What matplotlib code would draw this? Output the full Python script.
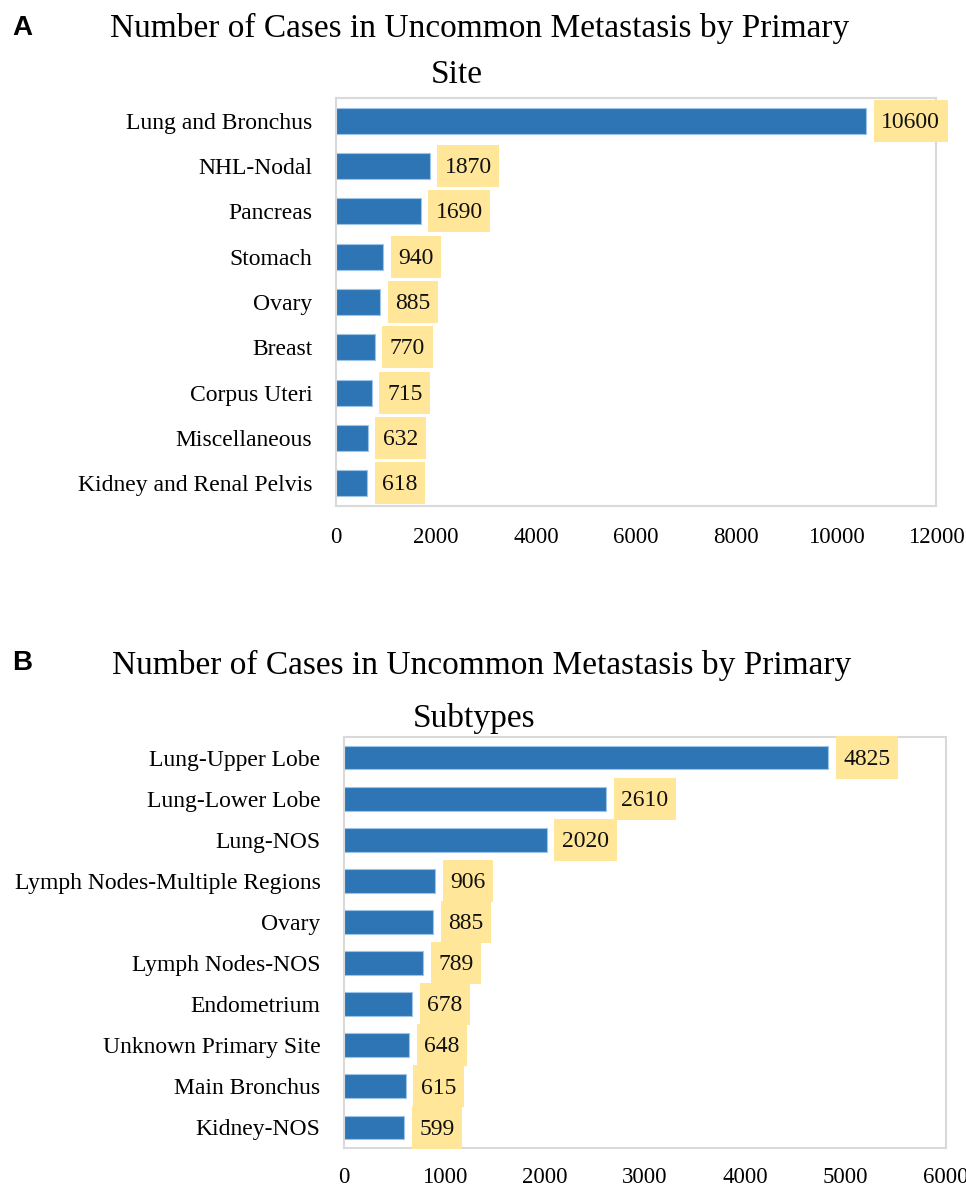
import matplotlib
matplotlib.use("Agg")
from matplotlib import pyplot as plt
from matplotlib.path import Path

# Panel A: primary site
sites = ['Lung and Bronchus', 'NHL-Nodal', 'Pancreas', 'Stomach', 'Ovary',
         'Breast', 'Corpus Uteri', 'Miscellaneous', 'Kidney and Renal Pelvis']
site_cases = [10600, 1870, 1690, 940, 885, 770, 715, 632, 618]
site_ticks = [0, 2000, 4000, 6000, 8000, 10000, 12000]

# Panel B: primary subtypes
subtypes = ['Lung-Upper Lobe', 'Lung-Lower Lobe', 'Lung-NOS',
            'Lymph Nodes-Multiple Regions', 'Ovary', 'Lymph Nodes-NOS',
            'Endometrium', 'Unknown Primary Site', 'Main Bronchus', 'Kidney-NOS']
subtype_cases = [4825, 2610, 2020, 906, 885, 789, 678, 648, 615, 599]
subtype_ticks = [0, 1000, 2000, 3000, 4000, 5000, 6000]

bar_color = '#2E75B6'
box_color = '#FFE699'
frame_color = '#D9D9D9'
serif = 'Liberation Serif'


def tall_box(x0, y0, width, height, mutation_size):
    # label box: a bit more padding top/bottom than left/right
    px = 0.32 * mutation_size
    py = 0.45 * mutation_size
    x0, x1 = x0 - px, x0 + width + px
    y0, y1 = y0 - py, y0 + height + py
    return Path([(x0, y0), (x1, y0), (x1, y1), (x0, y1), (x0, y0)], closed=True)


fig = plt.figure(figsize=(9.66, 11.88), dpi=100)


def draw_panel(ax, labels, values, ticks, xpad, lpad):
    ypos = range(len(labels))
    ax.barh(ypos, values, height=0.58, color=bar_color, edgecolor='#9DC3E6', linewidth=0.8)
    for y, v in zip(ypos, values):
        # yellow box (text hidden) then the number on top, nudged to sit centred
        ax.annotate(str(v), xy=(v, y), xytext=(11, 0), textcoords='offset points',
                    ha='left', va='center', fontsize=17, family=serif, color='none',
                    bbox=dict(boxstyle=tall_box, fc=box_color, ec='none'),
                    clip_on=False)
        ax.annotate(str(v), xy=(v, y), xytext=(11, -1.2), textcoords='offset points',
                    ha='left', va='center', fontsize=17, family=serif, color='#111111',
                    clip_on=False)
    ax.set_ylim(len(labels) - 0.5, -0.5)
    ax.set_xlim(ticks[0], ticks[-1])
    ax.set_xticks(ticks)
    ax.set_xticklabels([str(t) for t in ticks], family=serif, fontsize=16.5)
    ax.set_yticks(list(ypos))
    ax.set_yticklabels(labels, family=serif, fontsize=17)
    ax.tick_params(axis='x', length=0, pad=xpad)
    ax.tick_params(axis='y', length=0, pad=lpad)
    for s in ax.spines.values():
        s.set_color(frame_color)
        s.set_linewidth(1.5)


ax1 = fig.add_axes([336 / 966, 1 - 506 / 1188, 600 / 966, 408 / 1188])
draw_panel(ax1, sites, site_cases, site_ticks, 15, 17)

ax2 = fig.add_axes([344 / 966, 1 - 1148 / 1188, 602 / 966, 411 / 1188])
draw_panel(ax2, subtypes, subtype_cases, subtype_ticks, 14, 17)

# titles
fig.text(480 / 966, 1 - 28 / 1188, 'Number of Cases in Uncommon Metastasis by Primary',
         ha='center', va='center', fontsize=24, family=serif)
fig.text(457 / 966, 1 - 75 / 1188, 'Site', ha='center', va='center', fontsize=24, family=serif)
fig.text(482 / 966, 1 - 665 / 1188, 'Number of Cases in Uncommon Metastasis by Primary',
         ha='center', va='center', fontsize=24, family=serif)
fig.text(474 / 966, 1 - 718 / 1188, 'Subtypes', ha='center', va='center', fontsize=24, family=serif)

fig.text(12 / 966, 1 - 28 / 1188, 'A', ha='left', va='center', fontsize=20,
         fontweight='bold', family='Liberation Sans')
fig.text(12 / 966, 1 - 663 / 1188, 'B', ha='left', va='center', fontsize=20,
         fontweight='bold', family='Liberation Sans')

plt.savefig('out.png', dpi=100)
